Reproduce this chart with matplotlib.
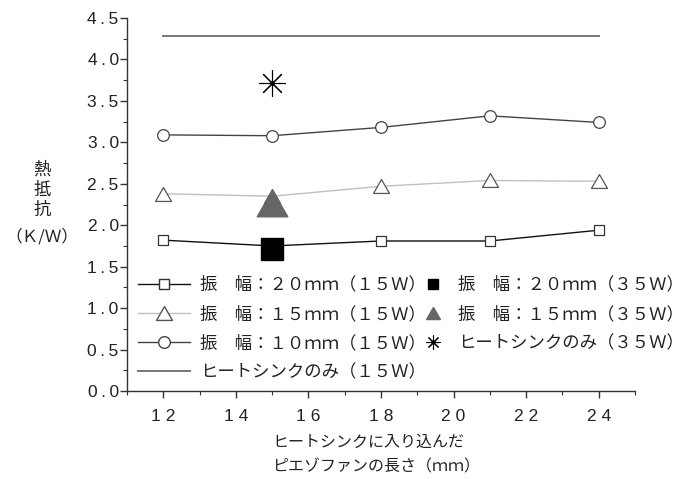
import matplotlib
matplotlib.use("Agg")
import matplotlib.pyplot as plt
from matplotlib.lines import Line2D
from matplotlib.ticker import MultipleLocator, FuncFormatter

plt.rcParams['font.family'] = ['Liberation Sans', 'Noto Sans CJK JP', 'DejaVu Sans']

# データ
x = [12, 15, 18, 21, 24]
r20_15w = [1.82, 1.75, 1.81, 1.81, 1.94]
r15_15w = [2.38, 2.35, 2.47, 2.54, 2.53]
r10_15w = [3.09, 3.08, 3.18, 3.32, 3.24]
hs_15w_x = [12, 24]
hs_15w = [4.28, 4.28]
x35 = [15]
r20_35w = [1.71]
r15_35w = [2.27]
hs_35w = [3.71]

labels_15w = ["振　幅：２０ｍｍ（１５Ｗ）", "振　幅：１５ｍｍ（１５Ｗ）",
              "振　幅：１０ｍｍ（１５Ｗ）", "ヒートシンクのみ（１５Ｗ）"]
labels_35w = ["振　幅：２０ｍｍ（３５Ｗ）", "振　幅：１５ｍｍ（３５Ｗ）",
              "ヒートシンクのみ（３５Ｗ）"]

tri = [(0, 0.87), (-1, -0.87), (1, -0.87), (0, 0.87)]
aster = (8, 2, 0)

fig = plt.figure(figsize=(6.94, 4.79), dpi=100)
ax = fig.add_axes([0.183, 0.1837, 0.732, 0.7787])

ax.plot(hs_15w_x, hs_15w, color='#777777', lw=1.4)
ax.plot(x, r20_15w, color='#111111', lw=1.0, marker='s', ms=7.2,
        mfc='white', mec='#333333', mew=0.9)
ax.plot(x, r15_15w, color='#c0c0c0', lw=1.0, marker=tri, ms=11.5,
        mfc='white', mec='#555555', mew=0.9)
ax.plot(x, r10_15w, color='#444444', lw=1.0, marker='o', ms=8.4,
        mfc='white', mec='#444444', mew=0.9)
ax.plot(x35, r20_35w, ls='none', marker='s', ms=15.6, color='black')
ax.plot(x35, r15_35w, ls='none', marker=tri, ms=22, color='#666666')
ax.plot(x35, hs_35w, ls='none', marker=aster, ms=19, color='black', mew=0.8)
ax.plot(x35, hs_35w, ls='none', marker='o', ms=2, color='black')

ax.set_xlim(11, 25)
ax.set_ylim(0, 4.5)
ax.xaxis.set_major_locator(MultipleLocator(2))
ax.xaxis.set_minor_locator(MultipleLocator(1))
ax.yaxis.set_major_locator(MultipleLocator(0.5))
ax.yaxis.set_minor_locator(MultipleLocator(0.25))
ax.yaxis.set_major_formatter(FuncFormatter(lambda v, p: '\u2009'.join(f"{v:.1f}")))
ax.xaxis.set_major_formatter(FuncFormatter(lambda v, p: '\u2009\u200a'.join(f"{v:.0f}")))
ax.tick_params(which='major', length=5, width=1, labelsize=12.5, color='#333333',
               labelcolor='#222222')
ax.tick_params(which='minor', length=3, width=0.8, color='#333333')
ax.tick_params(axis='x', pad=8)
ax.tick_params(axis='y', pad=1)
for s in ['top', 'right']:
    ax.spines[s].set_visible(False)
for s in ['left', 'bottom']:
    ax.spines[s].set_linewidth(1.0)
    ax.spines[s].set_color('#333333')

h15 = [
    Line2D([], [], color='#111111', lw=1.0, marker='s', ms=7.2, mfc='white', mec='#333333'),
    Line2D([], [], color='#c0c0c0', lw=1.0, marker=tri, ms=11.5, mfc='white', mec='#555555'),
    Line2D([], [], color='#444444', lw=1.0, marker='o', ms=8.4, mfc='white', mec='#444444'),
    Line2D([], [], color='#777777', lw=1.4),
]
h35 = [
    Line2D([], [], ls='none', marker='s', ms=7.5, color='black'),
    Line2D([], [], ls='none', marker=tri, ms=10, color='#666666'),
    Line2D([], [], ls='none', marker=aster, ms=10, color='black', mew=0.8),
]
leg_kw = dict(frameon=False, fontsize=12.5, borderpad=0, borderaxespad=0,
              labelspacing=0.72, loc='upper left', labelcolor='#222222')
leg1 = fig.legend(h15, labels_15w, bbox_to_anchor=(138 / 694, 1 - 276 / 479),
                  handlelength=3.0, handletextpad=0.6, **leg_kw)
leg2 = fig.legend(h35, labels_35w, bbox_to_anchor=(424 / 694, 1 - 276 / 479),
                  handlelength=1.0, handletextpad=0.95, **leg_kw)

for ch, yy in zip("熱抵抗", [170, 190, 210]):
    fig.text(42 / 694, 1 - yy / 479, ch, ha='center', va='center',
             fontsize=12.5, color='#222222', family='Noto Sans CJK JP')
fig.text(42 / 694, 1 - 237 / 479, "（Ｋ/Ｗ）", ha='center', va='center',
         fontsize=12, color='#222222', family='Noto Sans CJK JP')
fig.text(272 / 694, 1 - 442 / 479, "ヒートシンクに入り込んだ", ha='left', va='center',
         fontsize=11.5, color='#222222')
fig.text(272 / 694, 1 - 467 / 479, "ピエゾファンの長さ（ｍｍ）", ha='left', va='center',
         fontsize=11.5, color='#222222')

fig.savefig("out.png", dpi=100)
